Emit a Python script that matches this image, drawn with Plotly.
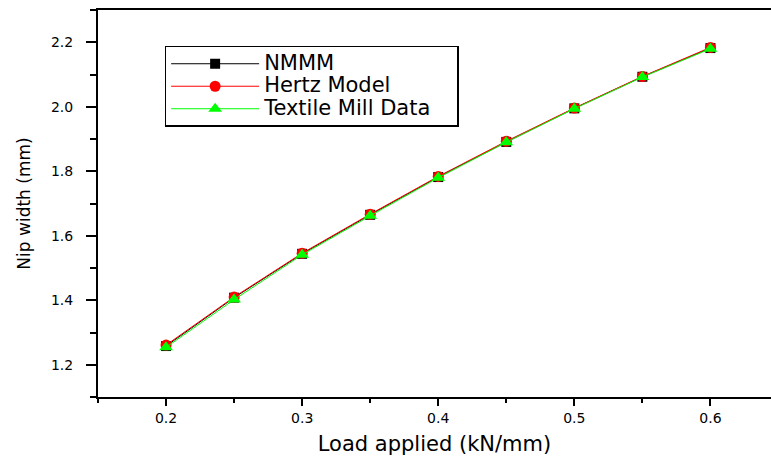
import plotly.graph_objects as go

load = [0.2, 0.25, 0.3, 0.35, 0.4, 0.45, 0.5, 0.55, 0.6]
nmmm = [1.258, 1.408, 1.544, 1.665, 1.782, 1.891, 1.995, 2.093, 2.182]
hertz = [1.261, 1.410, 1.546, 1.667, 1.784, 1.893, 1.996, 2.094, 2.184]
textile = [1.254, 1.402, 1.541, 1.662, 1.780, 1.890, 1.994, 2.092, 2.180]
names = ["NMMM", "Hertz Model", "Textile Mill Data"]
x_ticks = [0.2, 0.3, 0.4, 0.5, 0.6]
y_ticks = [1.2, 1.4, 1.6, 1.8, 2.0, 2.2]

FONT = "DejaVu Sans, Arial, sans-serif"


def legend_label(name):
    return '<span style="font-size:21px">' + name + '&nbsp;&nbsp;&nbsp;</span>'


fig = go.Figure()
fig.add_trace(go.Scatter(x=load, y=nmmm, name=legend_label(names[0]), mode="lines+markers",
                         line=dict(color="black", width=1),
                         marker=dict(symbol="square", size=10, color="black")))
fig.add_trace(go.Scatter(x=load, y=hertz, name=legend_label(names[1]), mode="lines+markers",
                         line=dict(color="red", width=1),
                         marker=dict(symbol="circle", size=11, color="red")))
fig.add_trace(go.Scatter(x=load, y=textile, name=legend_label(names[2]), mode="lines+markers",
                         line=dict(color="#00ff00", width=1),
                         marker=dict(symbol="triangle-up", size=12, color="#00ff00")))

fig.update_layout(
    width=771, height=457,
    margin=dict(l=98, r=0, t=10, b=60, pad=0),
    paper_bgcolor="white", plot_bgcolor="white",
    font=dict(family=FONT, color="black"),
    showlegend=True,
    legend=dict(x=0.099, y=0.907, xanchor="left", yanchor="top",
                bordercolor="black", borderwidth=1.5, bgcolor="white",
                font=dict(size=15, family=FONT), itemwidth=88,
                tracegroupgap=0),
)
fig.update_xaxes(
    range=[0.15, 0.6445], showgrid=False, zeroline=False,
    showline=True, linecolor="black", linewidth=2, mirror=True,
    ticks="outside", tickvals=x_ticks, ticktext=[str(v) for v in x_ticks],
    ticklen=7, tickwidth=2, tickcolor="black",
    minor=dict(ticks="outside", dtick=0.05, tick0=0.15, ticklen=4, tickwidth=2, tickcolor="black"),
    tickfont=dict(size=14, family=FONT),
    title=dict(text="Load applied (kN/mm)", font=dict(size=21, family=FONT), standoff=12),
)
fig.update_yaxes(
    range=[1.1, 2.3], showgrid=False, zeroline=False,
    showline=True, linecolor="black", linewidth=2, mirror=False,
    ticks="outside", tickvals=y_ticks, ticktext=["%.1f" % v for v in y_ticks],
    ticklen=10, tickwidth=2, tickcolor="black",
    minor=dict(ticks="outside", dtick=0.1, tick0=1.1, ticklen=6, tickwidth=2, tickcolor="black"),
    tickfont=dict(size=14, family=FONT), ticklabelstandoff=10,
    title=dict(text="Nip width (mm)", font=dict(size=17, family=FONT), standoff=16),
)

fig.write_html("out.html")
